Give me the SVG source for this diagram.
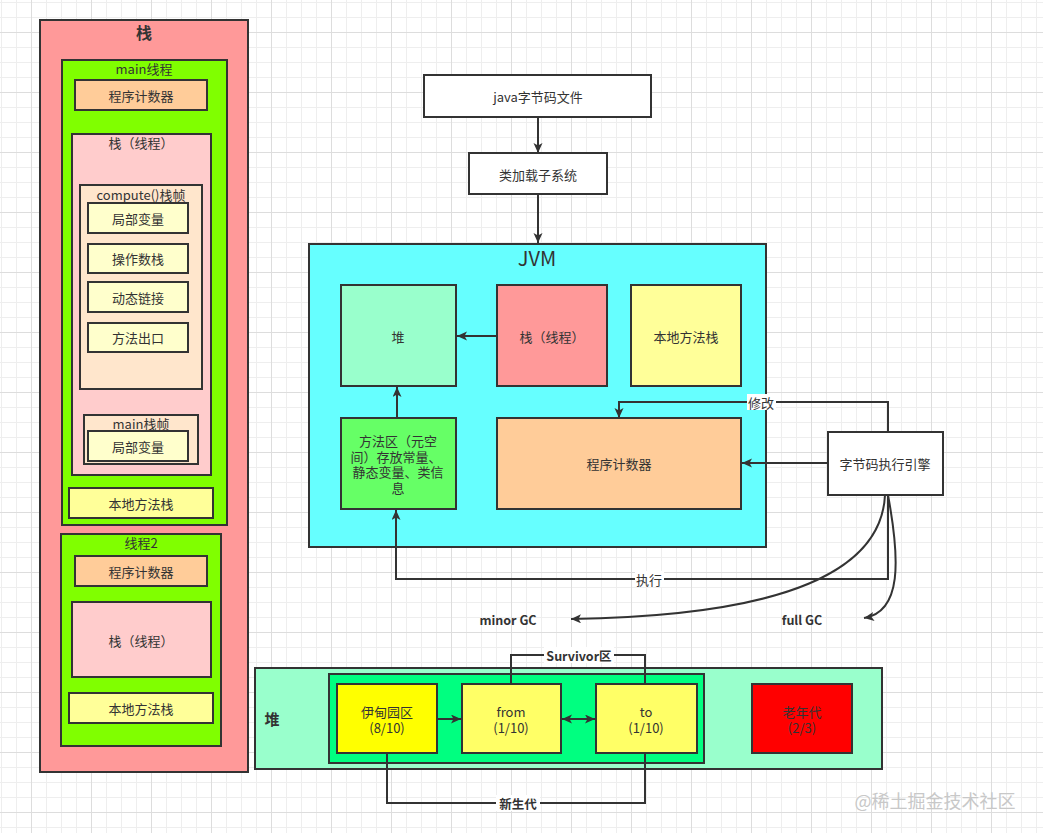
<svg xmlns="http://www.w3.org/2000/svg" width="1043" height="833" viewBox="0 0 1043 833">
<defs>
<pattern id="grid" patternUnits="userSpaceOnUse" x="1" y="2" width="60" height="60">
<rect width="60" height="60" fill="#ffffff"/>
<g fill="#eeeeee">
<rect x="0" y="0" width="1" height="60"/><rect x="15" y="0" width="1" height="60"/><rect x="45" y="0" width="1" height="60"/>
<rect x="0" y="0" width="60" height="1"/><rect x="0" y="15" width="60" height="1"/><rect x="0" y="45" width="60" height="1"/>
</g>
<g fill="#dddddd">
<rect x="30" y="0" width="1" height="60"/><rect x="0" y="30" width="60" height="1"/>
</g>
</pattern>
<marker id="arr" markerUnits="userSpaceOnUse" markerWidth="11" markerHeight="10" refX="10" refY="4.5" orient="auto-start-reverse">
<path d="M0,0 L10,4.5 L0,9 L2.5,4.5 z" fill="#333"/>
</marker>
<style>
.b{stroke:#333;stroke-width:2}
.t{font-family:"Noto Sans CJK SC","Noto Sans",sans-serif;font-size:13px;fill:#333;text-anchor:middle;dominant-baseline:central}
.bt{font-family:"Noto Sans CJK SC","Noto Sans",sans-serif;font-size:12.5px;font-weight:bold;fill:#333;text-anchor:middle;dominant-baseline:central}
.c{fill:none;stroke:#333;stroke-width:2}
.lb{fill:#ffffff}
</style>
</defs>
<rect width="1043" height="833" fill="url(#grid)"/>

<g id="stack-panel">
<rect class="b" x="40" y="20" width="208" height="752" fill="#FF9999"/>
<text class="bt" x="144" y="32" style="font-size:16px">栈</text>
</g>
<g id="main-thread">
<rect class="b" x="62" y="60" width="165" height="465" fill="#80FF00"/>
<text class="t" x="144" y="68">main线程</text>
</g>
<g id="main-pc">
<rect class="b" x="75" y="80" width="132" height="30" fill="#FFCC99"/>
<text class="t" x="141" y="95">程序计数器</text>
</g>
<g id="main-stack">
<rect class="b" x="72" y="134" width="139" height="341" fill="#FFCCCC"/>
<text class="t" x="141" y="142">栈（线程）</text>
</g>
<g id="compute-frame">
<rect class="b" x="80" y="185" width="122" height="204" fill="#FFE6CC"/>
<text class="t" x="141" y="194">compute()栈帧</text>
</g>
<g id="local-vars">
<rect class="b" x="88" y="203" width="100" height="30" fill="#FFFFCC"/>
<text class="t" x="138" y="218">局部变量</text>
</g>
<g id="operand-stack">
<rect class="b" x="88" y="244" width="100" height="29" fill="#FFFFCC"/>
<text class="t" x="138" y="258">操作数栈</text>
</g>
<g id="dynamic-link">
<rect class="b" x="88" y="282" width="100" height="30" fill="#FFFFCC"/>
<text class="t" x="138" y="297">动态链接</text>
</g>
<g id="method-exit">
<rect class="b" x="88" y="323" width="100" height="29" fill="#FFFFCC"/>
<text class="t" x="138" y="337">方法出口</text>
</g>
<g id="main-frame">
<rect class="b" x="84" y="415" width="114" height="49" fill="#FFE6CC"/>
<text class="t" x="141" y="423">main栈帧</text>
</g>
<g id="main-local-vars">
<rect class="b" x="88" y="431" width="100" height="30" fill="#FFFFCC"/>
<text class="t" x="138" y="446">局部变量</text>
</g>
<g id="main-native">
<rect class="b" x="69" y="488" width="144" height="30" fill="#FFFF99"/>
<text class="t" x="141" y="503">本地方法栈</text>
</g>

<g id="thread2">
<rect class="b" x="61" y="534" width="160" height="212" fill="#80FF00"/>
<text class="t" x="141" y="542">线程2</text>
</g>
<g id="t2-pc">
<rect class="b" x="75" y="556" width="132" height="30" fill="#FFCC99"/>
<text class="t" x="141" y="571">程序计数器</text>
</g>
<g id="t2-stack">
<rect class="b" x="72" y="602" width="139" height="75" fill="#FFCCCC"/>
<text class="t" x="141" y="640">栈（线程）</text>
</g>
<g id="t2-native">
<rect class="b" x="69" y="693" width="144" height="30" fill="#FFFF99"/>
<text class="t" x="141" y="708">本地方法栈</text>
</g>

<g id="bytecode-file">
<rect class="b" x="424" y="75" width="227" height="42" fill="#ffffff"/>
<text class="t" x="538" y="96">java字节码文件</text>
</g>
<g id="class-loader">
<rect class="b" x="469" y="153" width="138" height="41" fill="#ffffff"/>
<text class="t" x="538" y="174">类加载子系统</text>
</g>

<g id="jvm">
<rect class="b" x="309" y="244" width="457" height="303" fill="#66FFFF"/>
<text class="t" x="537" y="257" style="font-size:20px">JVM</text>
</g>
<g id="jvm-heap">
<rect class="b" x="341" y="285" width="115" height="101" fill="#99FFCC"/>
<text class="t" x="398" y="336">堆</text>
</g>
<g id="jvm-stack">
<rect class="b" x="497" y="285" width="110" height="101" fill="#FF9999"/>
<text class="t" x="552" y="336">栈（线程）</text>
</g>
<g id="jvm-native">
<rect class="b" x="631" y="285" width="110" height="101" fill="#FFFF99"/>
<text class="t" x="686" y="336">本地方法栈</text>
</g>
<g id="jvm-method-area">
<rect class="b" x="341" y="418" width="115" height="91" fill="#66FF66"/>
<text class="t" x="398" y="440">方法区（元空</text>
<text class="t" x="396" y="456">间）存放常量、</text>
<text class="t" x="398" y="471">静态变量、类信</text>
<text class="t" x="398" y="487">息</text>
</g>
<g id="jvm-pc">
<rect class="b" x="497" y="418" width="244" height="91" fill="#FFCC99"/>
<text class="t" x="619" y="463">程序计数器</text>
</g>

<g id="engine">
<rect class="b" x="828" y="432" width="115" height="63" fill="#ffffff"/>
<text class="t" x="885" y="463">字节码执行引擎</text>
</g>

<g id="heap">
<rect class="b" x="255" y="668" width="627" height="101" fill="#99FFCC"/>
<text class="bt" x="272" y="718" style="font-size:15px">堆</text>
</g>
<g id="young-gen">
<rect class="b" x="329" y="674" width="375" height="89" fill="#00FF80"/>
</g>
<g id="eden">
<rect class="b" x="337" y="684" width="100" height="69" fill="#FFFF00"/>
<text class="t" x="387" y="711">伊甸园区</text>
<text class="t" x="387" y="727">(8/10)</text>
</g>
<g id="from">
<rect class="b" x="462" y="684" width="99" height="69" fill="#FFFF66"/>
<text class="t" x="511" y="711">from</text>
<text class="t" x="511" y="727">(1/10)</text>
</g>
<g id="to">
<rect class="b" x="596" y="684" width="101" height="69" fill="#FFFF66"/>
<text class="t" x="646" y="711">to</text>
<text class="t" x="646" y="727">(1/10)</text>
</g>
<g id="old-gen">
<rect class="b" x="752" y="684" width="100" height="69" fill="#FF0000"/>
<text class="t" x="802" y="711">老年代</text>
<text class="t" x="802" y="727">(2/3)</text>
</g>

<g id="connectors">
<path class="c" d="M538 117 L538 153" marker-end="url(#arr)"/>
<path class="c" d="M538 194 L538 243" marker-end="url(#arr)"/>
<path class="c" d="M497 336 L457 336" marker-end="url(#arr)"/>
<path class="c" d="M397 418 L397 387" marker-end="url(#arr)"/>
<path class="c" d="M828 463 L742 463" marker-end="url(#arr)"/>
<path class="c" d="M888 432 L888 402 L619 402 L619 418" marker-end="url(#arr)"/>
<rect class="lb" x="747" y="394" width="29" height="16"/>
<text class="t" x="761" y="402">修改</text>
<path class="c" d="M888 495 L888 579 L396 579 L396 510" marker-end="url(#arr)"/>
<rect class="lb" x="635" y="571" width="29" height="16"/>
<text class="t" x="649" y="579">执行</text>
<path class="c" d="M885 495 C880 600 700 617 571 619" marker-end="url(#arr)"/>
<path class="c" d="M888 495 C900 560 902 612 864 618" marker-end="url(#arr)"/>
<text class="bt" x="508" y="619">minor GC</text>
<text class="bt" x="802" y="619">full GC</text>
<path class="c" d="M437 719 L461 719" marker-end="url(#arr)"/>
<path class="c" d="M562 719 L595 719" marker-start="url(#arr)" marker-end="url(#arr)"/>
<path class="c" d="M511 684 L511 655 L645 655 L645 684"/>
<rect class="lb" x="544" y="647" width="70" height="16"/>
<text class="bt" x="579" y="655">Survivor区</text>
<path class="c" d="M387 753 L387 803 L645 803 L645 753"/>
<rect class="lb" x="496" y="795" width="44" height="16"/>
<text class="bt" x="518" y="803">新生代</text>
</g>
<text x="935" y="800" style="font-family:'Noto Sans CJK SC','Noto Sans',sans-serif;font-size:18px;fill:#c8c8c8;text-anchor:middle;dominant-baseline:central">@稀土掘金技术社区</text>
</svg>
